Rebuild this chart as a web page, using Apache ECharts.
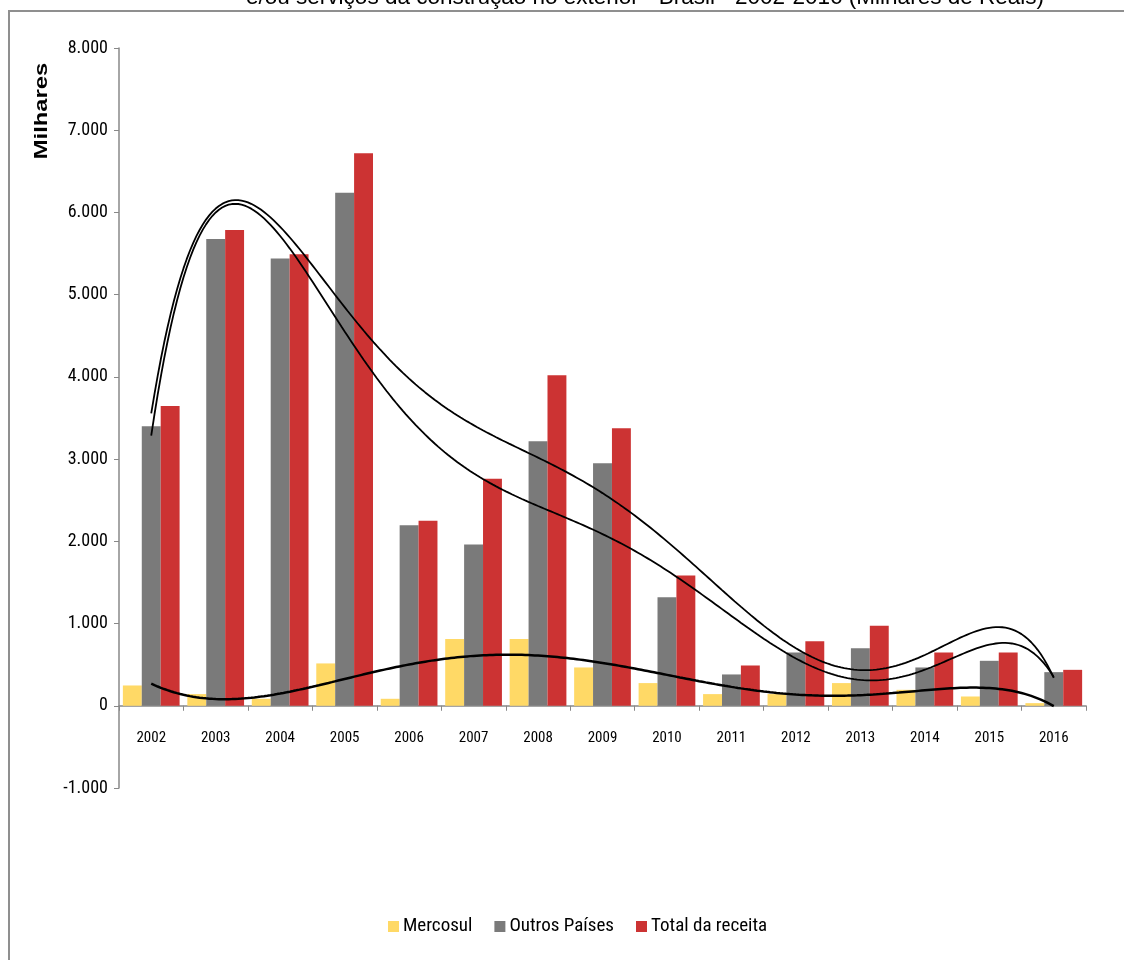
<!DOCTYPE html>
<html>
<head>
<meta charset="utf-8">
<script src="https://cdn.jsdelivr.net/npm/echarts@6/dist/echarts.min.js"></script>
<style>
  html, body { margin: 0; padding: 0; background: #ffffff; }
  #chart { width: 1124px; height: 960px; }
</style>
</head>
<body>
<div id="chart"></div>
<script>
// Receita de serviços da construção no exterior (milhares de reais)
const years = ['2002', '2003', '2004', '2005', '2006', '2007', '2008', '2009',
               '2010', '2011', '2012', '2013', '2014', '2015', '2016'];
const mercosul     = [247, 142, 85, 515, 85, 811, 811, 466, 276, 142, 142, 276, 194, 113, 32];
const outrosPaises = [3400, 5678, 5439, 6241, 2197, 1961, 3218, 2950, 1321, 381, 648, 701, 466, 547, 409];
const totalReceita = [3647, 5787, 5491, 6720, 2249, 2760, 4020, 3376, 1585, 490, 786, 973, 648, 648, 437];

const seriesNames = ['Mercosul', 'Outros Países', 'Total da receita'];
const titleText = 'e/ou serviços da construção no exterior - Brasil - 2002-2016 (Milhares de Reais)';
const axisTitle = 'Milhares';

// Least-squares polynomial trend line (x = 1..n, like a spreadsheet trend line)
function polyFit(ys, order) {
  const n = ys.length;
  const mid = (n + 1) / 2, half = (n - 1) / 2;
  const m = order + 1;
  const A = Array.from({ length: m }, () => new Array(m + 1).fill(0));
  for (let i = 0; i < n; i++) {
    const t = (i + 1 - mid) / half;
    const pw = [1];
    for (let k = 1; k < 2 * m; k++) pw.push(pw[k - 1] * t);
    for (let r = 0; r < m; r++) {
      for (let c = 0; c < m; c++) A[r][c] += pw[r + c];
      A[r][m] += pw[r] * ys[i];
    }
  }
  for (let col = 0; col < m; col++) {
    let piv = col;
    for (let r = col + 1; r < m; r++) if (Math.abs(A[r][col]) > Math.abs(A[piv][col])) piv = r;
    [A[col], A[piv]] = [A[piv], A[col]];
    for (let r = 0; r < m; r++) {
      if (r === col) continue;
      const f = A[r][col] / A[col][col];
      for (let c = col; c <= m; c++) A[r][c] -= f * A[col][c];
    }
  }
  const coef = A.map((row, i) => row[m] / row[i]);
  return x => {
    const t = (x - mid) / half;
    let v = 0;
    for (let k = m - 1; k >= 0; k--) v = v * t + coef[k];
    return v;
  };
}

function trendPoints(ys) {
  const f = polyFit(ys, 6);
  const pts = [];
  for (let x = 1; x <= ys.length + 1e-9; x += 0.05) pts.push([x, f(x)]);
  return pts;
}

const labelFont = '"Liberation Sans Narrow", "Arial Narrow", "Roboto Condensed", "Liberation Sans", sans-serif';

const chart = echarts.init(document.getElementById('chart'), null, { renderer: 'canvas' });

const option = {
  backgroundColor: '#ffffff',
  animation: false,
  graphic: [
    {
      type: 'rect',
      shape: { x: 9, y: 11, width: 1200, height: 1000 },
      style: { fill: 'none', stroke: '#8f8f8f', lineWidth: 2 },
      silent: true
    },
    {
      type: 'text',
      x: 645, y: -2,
      style: {
        text: titleText,
        font: '22.5px "Liberation Sans", Arial, sans-serif',
        fill: '#000000',
        align: 'center',
        verticalAlign: 'middle'
      },
      silent: true
    },
    {
      type: 'text',
      x: 42, y: 111,
      rotation: Math.PI / 2,
      scaleX: 1.32,
      style: {
        text: axisTitle,
        font: 'bold 18px "Liberation Sans", Arial, sans-serif',
        fill: '#000000',
        align: 'center',
        verticalAlign: 'middle'
      },
      silent: true
    }
  ],
  legend: {
    data: seriesNames,
    left: 383,
    top: 912,
    itemWidth: 11,
    itemHeight: 11,
    itemGap: 22,
    icon: 'rect',
    textStyle: { fontFamily: labelFont, fontSize: 19, color: '#000000', padding: [0, 0, 0, -1] }
  },
  grid: { left: 119, right: 38, top: 48, bottom: 172, containLabel: false },
  xAxis: [
    {
      type: 'category',
      data: years,
      boundaryGap: true,
      axisLine: { onZero: true, lineStyle: { color: '#888888', width: 1.5 } },
      axisTick: { show: true, length: 5, interval: 0, lineStyle: { color: '#888888' } },
      axisLabel: { margin: -57, interval: 0, fontFamily: labelFont, fontSize: 15, color: '#000000' },
      splitLine: { show: false }
    },
    {
      type: 'value',
      show: false,
      min: 0.5,
      max: years.length + 0.5,
      splitLine: { show: false }
    }
  ],
  yAxis: {
    type: 'value',
    min: -1000,
    max: 8000,
    interval: 1000,
    axisLine: { show: true, onZero: false, lineStyle: { color: '#888888', width: 1.5 } },
    axisTick: { show: true, length: 5, lineStyle: { color: '#888888' } },
    splitLine: { show: false },
    axisLabel: {
      margin: 11,
      fontFamily: labelFont,
      fontSize: 18,
      color: '#000000',
      formatter: v => (v < 0 ? '-' : '') + Math.abs(v).toLocaleString('de-DE')
    }
  },
  series: [
    {
      name: seriesNames[0], type: 'bar', data: mercosul,
      barGap: '0%', barCategoryGap: '12%',
      itemStyle: { color: '#FFD966' }
    },
    {
      name: seriesNames[1], type: 'bar', data: outrosPaises,
      barGap: '0%', barCategoryGap: '12%',
      itemStyle: { color: '#7A7A7A' }
    },
    {
      name: seriesNames[2], type: 'bar', data: totalReceita,
      barGap: '0%', barCategoryGap: '12%',
      itemStyle: { color: '#CC3333' }
    },
    {
      name: 'Tendência Mercosul', type: 'line', xAxisIndex: 1,
      data: trendPoints(mercosul), showSymbol: false, silent: true,
      lineStyle: { color: '#000000', width: 2.5 }
    },
    {
      name: 'Tendência Outros Países', type: 'line', xAxisIndex: 1,
      data: trendPoints(outrosPaises), showSymbol: false, silent: true,
      lineStyle: { color: '#000000', width: 1.8 }
    },
    {
      name: 'Tendência Total', type: 'line', xAxisIndex: 1,
      data: trendPoints(totalReceita), showSymbol: false, silent: true,
      lineStyle: { color: '#000000', width: 1.8 }
    }
  ]
};

chart.setOption(option);
</script>
</body>
</html>
